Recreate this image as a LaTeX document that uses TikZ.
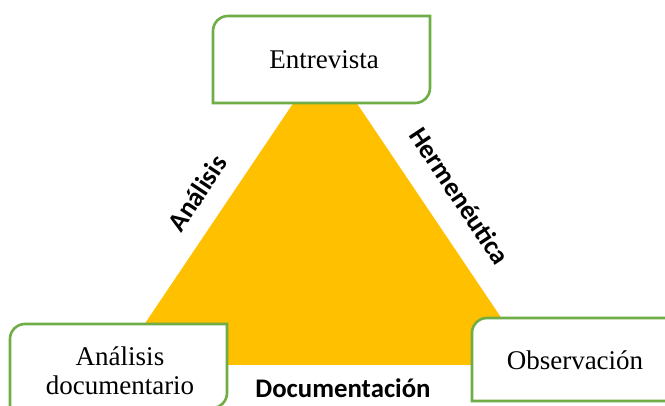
\documentclass[tikz,border=0pt]{standalone}
\usepackage{fontspec}
\setmainfont{Liberation Serif}
\newfontfamily\labelfont{Carlito}
\definecolor{boxgreen}{HTML}{70AD47}
\definecolor{triyellow}{HTML}{FFC000}
\tikzset{
  boxline/.style={draw=boxgreen, line width=2.6pt, fill=white},
  boxtext/.style={font=\fontsize{27}{29}\selectfont, align=center, inner sep=0pt},
  sidelabel/.style={font=\labelfont\bfseries\fontsize{26.8}{29}\selectfont, inner sep=0pt}
}
\newcommand{\diagbox}[4]{% x1 y1 x2 y2 : rounded top-left and bottom-right
  \path[boxline] (#1,{(#2+#4)/2}) [rounded corners=15pt] -- (#1,#2) -- ({(#1+#3)/2},#2)
    [sharp corners] -- (#3,#2) -- (#3,{(#2+#4)/2})
    [rounded corners=15pt] -- (#3,#4) -- ({(#1+#3)/2},#4)
    [sharp corners] -- (#1,#4) -- cycle;}
\begin{document}
\begin{tikzpicture}[x=1pt,y=-1pt]
\useasboundingbox (0,0) rectangle (665,406);
\clip (0,0) rectangle (665,406);
\fill[white] (0,0) rectangle (665,406);
% triangle
\fill[triyellow] (325,56) coordinate (apex) -- (117,365) coordinate (bl) -- (533,365) coordinate (br) -- cycle;
% boxes
\diagbox{213}{16}{430}{103}
\diagbox{10}{324}{227}{408}
\diagbox{472}{318}{700}{401}
\node[boxtext] (entrevista) at (324,60) {Entrevista};
\node[boxtext] (analisisdoc) at (120,371) {Análisis\\documentario};
\node[boxtext] (observacion) at (575,360) {Observación};
% side labels
\node[sidelabel, rotate=56.3] (lanalisis) at (197,193) {Análisis};
\node[sidelabel, rotate=-56.3] (lherm) at (460,196) {Hermenéutica};
\node[sidelabel] (ldoc) at (343,388) {Documentación};
\end{tikzpicture}
\end{document}
